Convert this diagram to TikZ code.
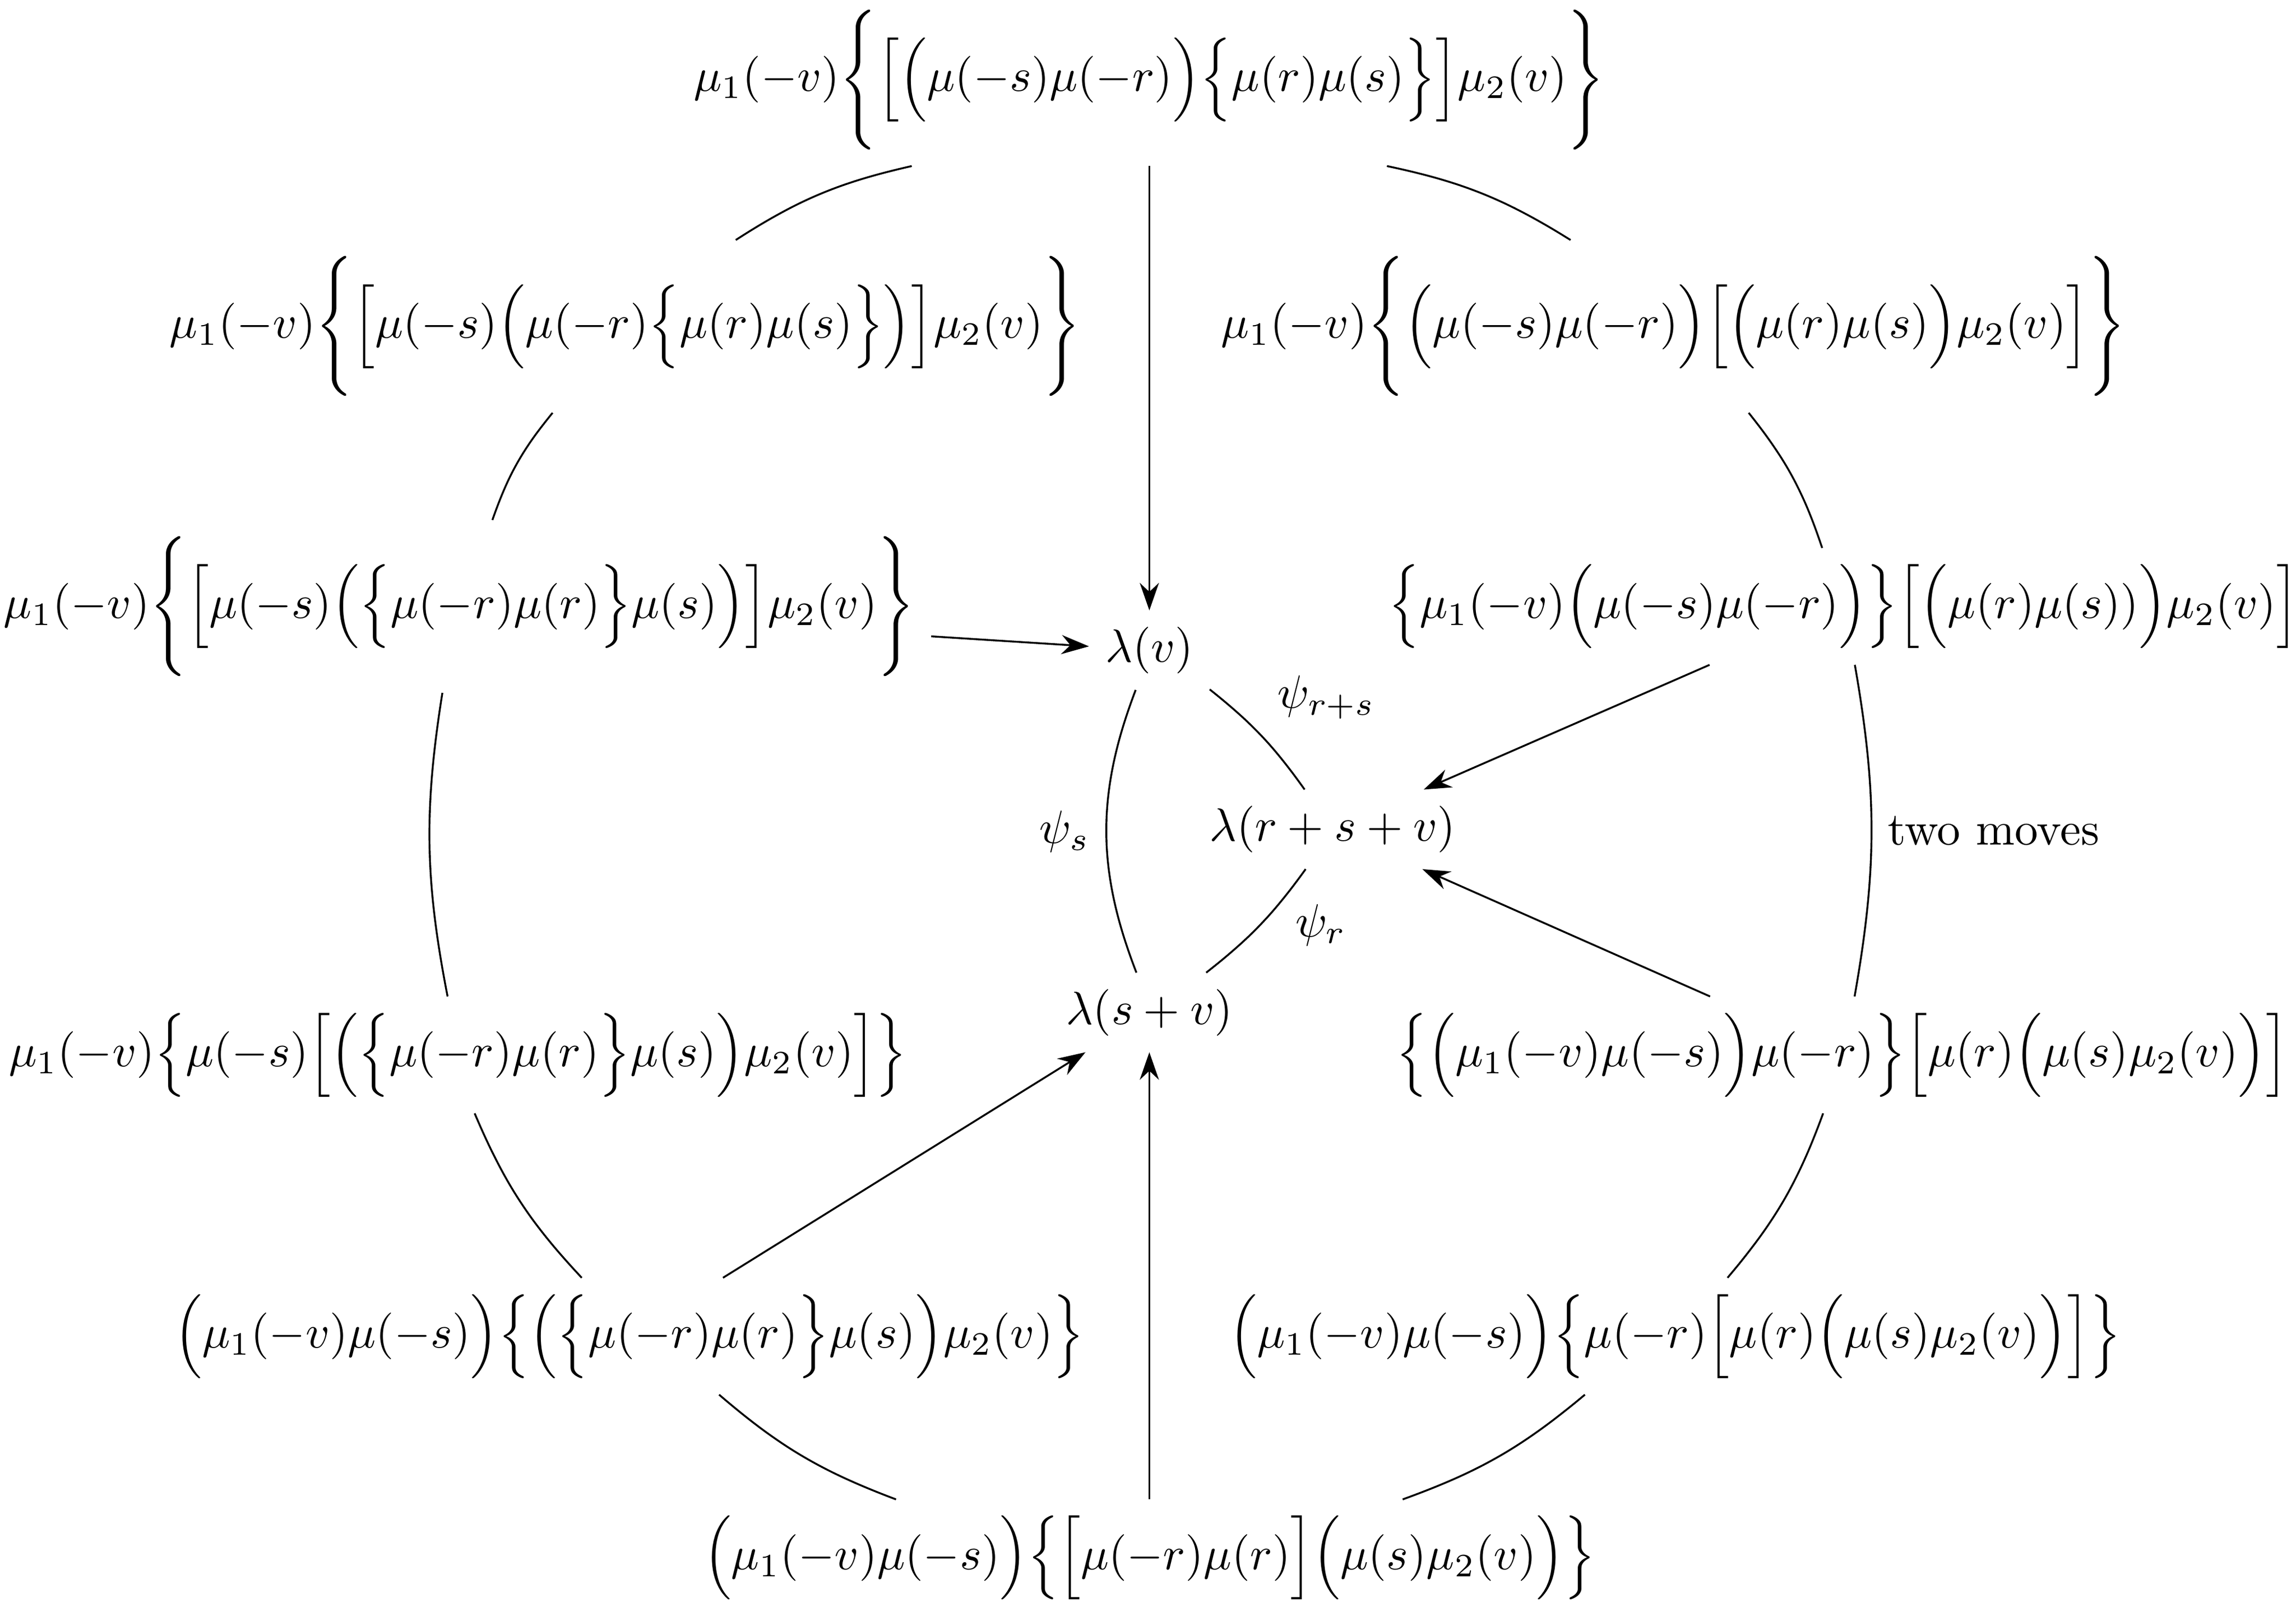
\documentclass[tikz,border=0pt]{standalone}
\usepackage{amsmath}
\usetikzlibrary{arrows.meta}

\begin{document}
\begin{tikzpicture}[>={Stealth[length=5.9pt,width=4.1pt]}, ring/.style={bend right=10}]
    \useasboundingbox (0,0) rectangle (17.30,12.11);

    \node (n1) at (8.66,11.51) {$\mu_1(-v)\Bigg\{\Big[\Big(\mu(-s)\mu(-r)\Big)\Big\{\mu(r)\mu(s)\Big\}\Big]\mu_2(v)\Bigg\}$};
    \node (n2) at (4.71,9.65) {$\mu_1(-v)\Bigg\{\Big[\mu(-s)\Big(\mu(-r)\Big\{\mu(r)\mu(s)\Big\}\Big)\Big]\mu_2(v)\Bigg\}$};
    \node (n3) at (3.46,7.54) {$\mu_1(-v)\Bigg\{\Big[\mu(-s)\Big(\Big\{\mu(-r)\mu(r)\Big\}\mu(s)\Big)\Big]\mu_2(v)\Bigg\}$};
    \node (n4) at (3.45,4.16) {$\mu_1(-v)\Big\{\mu(-s)\Big[\Big(\Big\{\mu(-r)\mu(r)\Big\}\mu(s)\Big)\mu_2(v)\Big]\Big\}$};
    \node (n5) at (4.74,2.04) {$\Big(\mu_1(-v)\mu(-s)\Big)\Big\{\Big(\Big\{\mu(-r)\mu(r)\Big\}\mu(s)\Big)\mu_2(v)\Big\}$};
    \node (n6) at (8.66,0.37) {$\Big(\mu_1(-v)\mu(-s)\Big)\Big\{\Big[\mu(-r)\mu(r)\Big]\Big(\mu(s)\mu_2(v)\Big)\Big\}$};
    \node (n7) at (12.62,2.04) {$\Big(\mu_1(-v)\mu(-s)\Big)\Big\{\mu(-r)\Big[\mu(r)\Big(\mu(s)\mu_2(v)\Big)\Big]\Big\}$};
    \node (n8) at (13.88,4.16) {$\Big\{\Big(\mu_1(-v)\mu(-s)\Big)\mu(-r)\Big\}\Big[\mu(r)\Big(\mu(s)\mu_2(v)\Big)\Big]$};
    \node (n9) at (13.89,7.54) {$\Big\{\mu_1(-v)\Big(\mu(-s)\mu(-r)\Big)\Big\}\Big[\Big(\mu(r)\mu(s))\Big)\mu_2(v)\Big]$};
    \node (n10) at (12.61,9.65) {$\mu_1(-v)\Bigg\{\Big(\mu(-s)\mu(-r)\Big)\Big[\Big(\mu(r)\mu(s)\Big)\mu_2(v)\Big]\Bigg\}$};

    \node (l1) at (8.66,7.21) {$\lambda(v)$};
    \node (l2) at (10.04,5.86) {$\lambda(r+s+v)$};
    \node (l3) at (8.66,4.48) {$\lambda(s+v)$};

    \draw (n1.200) to[ring] (n2.38);
    \draw (n2.230) to[ring] (n3.69);
    \draw (n3.259) to[ring] (n4.100);
    \draw (n4.286) to[ring] (n5.129);
    \draw (n5.327) to[ring] (n6.167);
    \draw (n6.13) to[ring] (n7.213);
    \draw (n7.48) to[ring] (n8.252);
    \draw (n8.78) to[ring] node[right] {two moves} (n9.281);
    \draw (n9.110) to[ring] (n10.311);
    \draw (n10.140) to[ring] (n1.340);

    \draw (l1.251) to[bend right=21] node[left] {$\psi_s$} (l3.108);
    \draw (l1.327) to[bend left=8] node[above right] {$\psi_{r+s}$} (l2.125);
    \draw (l3.35) to[bend right=8] node[right, xshift=4pt] {$\psi_r$} (l2.236);

    \draw[->] (n1) -- (l1);
    \draw[->] (n3) -- (l1);
    \draw[->] (n9) -- (l2);
    \draw[->] (n8) -- (l2);
    \draw[->] (n5) -- (l3);
    \draw[->] (n6) -- (l3);
\end{tikzpicture}
\end{document}
